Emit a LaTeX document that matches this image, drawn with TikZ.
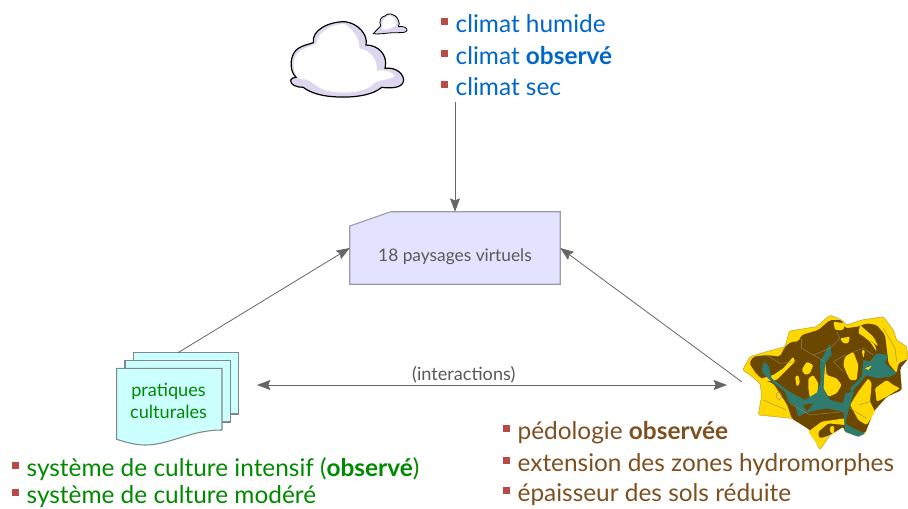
\documentclass[tikz,border=0pt]{standalone}
\usepackage{fontspec}
\setmainfont{Lato}
\usetikzlibrary{calc}
\usetikzlibrary{arrows.meta}

\definecolor{climatblue}{HTML}{0066CC}
\definecolor{cultureGreen}{HTML}{008A00}
\definecolor{soilBrown}{HTML}{7F4F1F}
\definecolor{bulletRed}{HTML}{B84A4A}
\definecolor{arrowGray}{HTML}{666666}
\definecolor{boxFill}{HTML}{E3E3FF}
\definecolor{boxLine}{HTML}{9A9AA8}
\definecolor{sheetFill}{HTML}{CCFFFF}
\definecolor{sheetLine}{HTML}{808888}
\definecolor{cloudShade}{HTML}{DDD6EE}
\definecolor{mapYellow}{HTML}{FFD800}
\definecolor{mapBrown}{HTML}{6B4700}
\definecolor{mapTeal}{HTML}{2F7B70}
\definecolor{mapLine}{HTML}{8C8A6A}
\definecolor{mapEdge}{HTML}{BCA83A}

\newcommand{\bulletsq}{\textcolor{bulletRed}{\raisebox{0.29em}{\rule{0.27em}{0.27em}}}\hspace{0.32em}}

\tikzset{
    listline/.style={anchor=base west, inner sep=0pt, font=\fontsize{18.3}{22}\selectfont},
    link/.style={arrowGray, line width=0.6pt},
    sheet/.style={draw=sheetLine, fill=sheetFill, line width=0.8pt},
    mapzoom/.style={shift={(730,305)}, x=0.25pt, y=-0.25pt},
}

\begin{document}
\begin{tikzpicture}[x=0.75pt, y=-0.75pt, >={Stealth[length=10pt,width=7.5pt,inset=1.5pt]}]
    \useasboundingbox (0,0) rectangle (908,508);

    % big cloud
    \begin{scope}[shift={(270,0)}, x=0.25pt, y=-0.25pt]
        \draw[black, line width=0.9pt, fill=cloudShade] (130,128)
            .. controls (125,90) and (175,65) .. (225,65)
            .. controls (265,70) and (295,105) .. (288,135)
            .. controls (325,135) and (355,165) .. (345,205)
            .. controls (380,200) and (405,225) .. (400,245)
            .. controls (395,265) and (360,265) .. (335,262)
            .. controls (310,285) and (250,295) .. (190,290)
            .. controls (150,288) and (115,275) .. (100,262)
            .. controls (80,262) and (60,255) .. (62,240)
            .. controls (65,235) and (70,232) .. (78,232)
            .. controls (55,210) and (60,160) .. (85,145)
            .. controls (100,135) and (120,132) .. (130,128) -- cycle;
        \fill[white] (140,130)
            .. controls (140,95) and (190,70) .. (225,72)
            .. controls (255,95) and (270,120) .. (268,145)
            .. controls (300,150) and (325,180) .. (320,212)
            .. controls (340,208) and (365,212) .. (375,228)
            .. controls (350,245) and (320,235) .. (305,258)
            .. controls (270,280) and (220,282) .. (170,272)
            .. controls (140,262) and (125,245) .. (110,238)
            .. controls (95,238) and (85,240) .. (78,225)
            .. controls (65,200) and (70,165) .. (92,152)
            .. controls (105,142) and (125,140) .. (140,130) -- cycle;

        % small cloud
        \draw[black, line width=0.6pt, fill=cloudShade] (310,101)
            .. controls (318,92) and (325,85) .. (332,78)
            .. controls (325,62) and (335,48) .. (345,48)
            .. controls (350,38) and (375,38) .. (385,60)
            .. controls (390,68) and (388,75) .. (385,80)
            .. controls (400,78) and (412,82) .. (411,92)
            .. controls (410,100) and (380,97) .. (355,99)
            .. controls (340,101) and (320,103) .. (310,101) -- cycle;
        \fill[white] (338,88) .. controls (330,65) and (345,50) .. (358,46)
            .. controls (375,50) and (382,65) .. (378,76)
            .. controls (365,85) and (350,92) .. (338,88) -- cycle;
    \end{scope}

    % climate list
    \node[listline, text=climatblue] (humide) at (441,32) {\bulletsq climat humide};
    \node[listline, text=climatblue] (observe) at (441,64) {\bulletsq climat \textbf{observé}};
    \node[listline, text=climatblue] (sec) at (441,95) {\bulletsq climat sec};
    \coordinate (climatend) at (455,102);

    % central box
    \node[minimum width=157.5pt, minimum height=54pt, inner sep=0pt] (paysages) at (455,248) {};
    \draw[draw=boxLine, fill=boxFill, line width=0.8pt]
        ($(paysages.north west)+(41,0)$) -- (paysages.north east) -- (paysages.south east)
        -- (paysages.south west) -- ($(paysages.north west)+(0,14.3)$) -- cycle;
    \node[text=black!65, inner sep=0pt, font=\fontsize{13}{16}\selectfont] (paysagestext) at (455,257) {18 paysages virtuels};

    % sheets
    \draw[sheet] (133.3,352.7) rectangle (238.7,414);
    \draw[sheet] (125,360.7) rectangle (230.3,422);
    \draw[sheet] (116.7,368.3) -- (222,368.3) -- (222,430)
        .. controls (190,430) and (170,445) .. (145,445)
        .. controls (135,445) and (125,442) .. (116.7,439.3) -- cycle;
    \node[inner sep=0pt, align=center, text=cultureGreen, font=\fontsize{13.6}{16.5}\selectfont] (pratiques) at (168.5,401) {pratiques\\culturales};
    \coordinate (pratiquesend) at (178,352.7);
    \coordinate (interleft) at (257,385);
    \coordinate (interright) at (727,385);
    \coordinate (mapend) at (742,382);

    % culture list
    \node[listline, text=cultureGreen] (intensif) at (12,476) {\bulletsq système de culture intensif (\textbf{observé})};
    \node[listline, text=cultureGreen] (modere) at (12,503) {\bulletsq système de culture modéré};

    % soil list
    \node[listline, text=soilBrown] (pedologie) at (503,439) {\bulletsq pédologie \textbf{observée}};
    \node[listline, text=soilBrown] (extension) at (503,471) {\bulletsq extension des zones hydromorphes};
    \node[listline, text=soilBrown] (epaisseur) at (503,501) {\bulletsq épaisseur des sols réduite};

    % soil map
    \begin{scope}[mapzoom]
        % outer yellow
        \draw[mapEdge, fill=mapYellow, line width=0.4pt, rounded corners=1pt]
            (38,195)--(60,155)--(110,140)--(165,125)--(178,78)--(260,65)--(300,30)--(335,45)--(350,60)
            --(395,45)--(460,35)--(490,75)--(500,105)--(530,125)--(534,160)--(510,190)--(515,255)
            --(470,275)--(430,320)--(405,385)--(385,395)--(345,380)--(340,365)--(300,390)--(270,435)
            --(250,395)--(235,370)--(185,340)--(85,330)--(95,270)--(90,235)--(60,210)--cycle;
        % brown soils
        \fill[mapBrown, rounded corners=1.5pt]
            (58,175)--(70,155)--(110,150)--(150,155)--(165,125)--(185,110)--(205,110)--(215,90)--(265,75)
            --(300,45)--(335,45)--(345,70)--(385,65)--(410,55)--(440,60)--(465,90)--(470,130)--(475,175)
            --(500,205)--(505,175)--(534,162)--(510,190)--(515,255)--(470,275)--(430,320)--(405,385)
            --(345,380)--(340,365)--(300,390)--(270,400)--(240,375)--(185,340)--(172,300)--(130,235)
            --(100,225)--(78,205)--cycle;
        % yellow patches
        \foreach \patch in {
            {(330,100)--(360,95)--(355,115)--(340,115)},
            {(345,155)--(370,140)--(385,180)--(380,225)--(360,225)--(350,205)--(340,180)},
            {(285,170)--(290,210)--(320,220)--(335,240)--(320,265)--(295,275)--(280,250)},
            {(215,195)--(230,170)--(250,180)--(240,205)--(225,210)},
            {(195,215)--(205,210)--(210,235)--(200,245)},
            {(235,220)--(250,210)--(265,235)--(262,265)--(240,280)--(235,250)},
            {(360,300)--(385,260)--(415,220)--(425,235)--(420,290)--(435,320)--(410,360)--(385,345)},
            {(435,250)--(470,225)--(490,240)--(510,250)--(470,275)--(440,290)},
            {(235,380)--(275,350)--(345,340)--(345,360)--(295,355)--(265,380)--(270,430)},
            {(300,365)--(312,362)--(312,388)--(300,382)},
            {(390,60)--(430,95)--(445,125)--(420,105)--(385,85)},
            {(395,80)--(435,120)--(440,140)--(420,110)--(390,85)},
            {(395,135)--(405,135)--(400,160)},
            {(130,210)--(160,190)--(190,155)--(195,170)--(160,205)--(140,225)--(105,230)--(80,225)},
            {(310,50)--(345,55)--(340,75)--(315,75)}}
        {
            \fill[mapYellow, rounded corners=1pt] \patch -- cycle;
        }
        % teal zones
        \fill[mapTeal, rounded corners=0.5pt]
            (100,170)--(115,180)--(125,220)--(175,258)--(225,285)--(262,262)--(272,225)--(270,170)
            --(300,115)--(305,150)--(285,175)--(280,250)--(300,285)--(340,295)--(345,265)--(372,260)
            --(360,300)--(345,355)--(370,370)--(405,385)--(385,395)--(345,380)--(340,320)--(290,310)
            --(240,320)--(225,325)--(205,335)--(195,300)--(175,290)--(165,260)--(120,225)--(95,200)--cycle;
        \fill[mapTeal, rounded corners=0.5pt]
            (360,250)--(395,215)--(400,165)--(420,170)--(440,145)--(475,150)--(465,175)--(500,205)
            --(480,215)--(440,220)--(410,210)--(375,250)--(365,265)--cycle;
        \fill[mapYellow] (405,190)--(425,182)--(415,195)--cycle;
        \fill[mapBrown] (220,300)--(250,295)--(230,320)--cycle;
        % parcel limits
        \draw[mapLine, line width=0.3pt]
            (215,100)--(215,130)--(250,150)--(300,130)
            (300,130)--(330,100)--(320,80)
            (250,150)--(285,170)
            (110,150)--(150,175)--(200,170)
            (370,140)--(400,130)--(430,150)
            (345,150)--(310,170)--(340,200)
            (420,290)--(385,300)
            (360,310)--(410,340)
            (180,295)--(240,330)--(340,320)
            (100,285)--(170,315)
            (460,70)--(495,130)--(500,170)
            (147,272) ellipse[x radius=8, y radius=12];
    \end{scope}

    % arrows
    \draw[link, ->] (climatend) -- (paysages.north);
    \draw[link, ->] (pratiquesend) -- (paysages.west);
    \draw[link, ->] (mapend) -- (paysages.east);
    \draw[link, <->] (interleft) -- (interright)
        node[pos=0.44, above, inner sep=1pt, text=black!65, font=\fontsize{13.6}{16}\selectfont] (interactions) {(interactions)};
\end{tikzpicture}
\end{document}
